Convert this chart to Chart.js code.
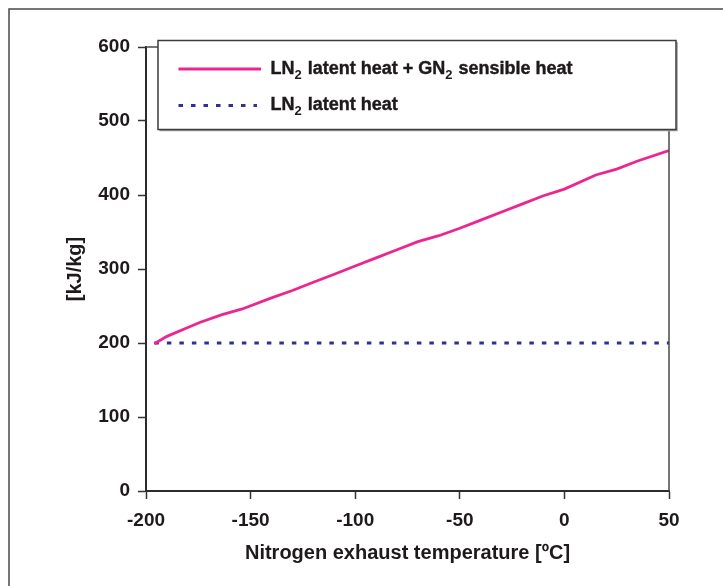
<!DOCTYPE html>
<html><head><meta charset="utf-8">
<script src="https://cdn.jsdelivr.net/npm/chart.js@4"></script>
<style>html,body{margin:0;padding:0;background:#fff;} canvas{display:block}</style>
</head><body>
<canvas id="c" width="723" height="586"></canvas>
<script>
// ---- data ----
const temperature = [-196, -190, -180, -174, -164, -154, -140, -130, -120, -110, -100, -90, -80, -70, -60, -50, -40, -30, -20, -10, 0, 15, 25, 35, 50];
const totalHeat   = [ 199,  209,  221,  228,  238,  246,  261,  271,  282,  293,  304, 315, 326, 337, 345, 355, 366, 377, 388, 399, 408, 427, 435, 446, 460];
const latentTemperature = [-196, 50];
const latentHeat        = [200, 200];
const xTicks = [-200, -150, -100, -50, 0, 50];
const yTicks = [0, 100, 200, 300, 400, 500, 600];
const seriesNames = ['LN₂ latent heat + GN₂ sensible heat', 'LN₂ latent heat'];
const xTitle = 'Nitrogen exhaust temperature [ºC]';
const yTitle = '[kJ/kg]';

const PINK = '#ec268f';
const BLUE = '#2e3192';
const INK = '#1e1a1b';
const FAM = '"Liberation Sans", Arial, Helvetica, sans-serif';

function drawRich(ctx, text, x, y, size, subSize) {
  // draws text with '₂' rendered as a subscript 2
  const parts = text.split('₂');
  let cx = x;
  parts.forEach((p, i) => {
    ctx.font = 'bold ' + size + 'px ' + FAM;
    ctx.fillText(p, cx, y);
    ctx.strokeText(p, cx, y);
    cx += ctx.measureText(p).width;
    if (i < parts.length - 1) {
      ctx.font = 'bold ' + subSize + 'px ' + FAM;
      ctx.fillText('2', cx, y + 5);
      cx += ctx.measureText('2').width + 1;
    }
  });
}

const framePlugin = {
  id: 'frame',
  beforeDraw(chart) {
    const ctx = chart.ctx;
    ctx.save();
    ctx.strokeStyle = '#4a4a4a';
    ctx.lineWidth = 1.5;
    ctx.beginPath();
    ctx.moveTo(9, 586); ctx.lineTo(9, 9); ctx.lineTo(723, 9);
    ctx.stroke();
    ctx.restore();
  },
  afterDatasetsDraw(chart) {
    const {ctx, chartArea: a} = chart;
    ctx.save();
    ctx.strokeStyle = '#4a4a4a';
    ctx.lineWidth = 1.5;
    ctx.beginPath();
    ctx.moveTo(a.left, a.top); ctx.lineTo(a.right, a.top); ctx.lineTo(a.right, a.bottom);
    ctx.stroke();
    ctx.restore();
  },
  afterDraw(chart) {
    const {ctx, chartArea: a} = chart;
    const L = a.left + 12, T = a.top - 6.5, R = a.right + 7, B = a.top + 82.5;
    ctx.save();
    ctx.fillStyle = '#fff';
    ctx.fillRect(L, T, R - L, B - T);
    ctx.strokeStyle = '#9a9a9a';
    ctx.lineWidth = 1.5;
    ctx.beginPath(); ctx.moveTo(L + 1.5, B + 1); ctx.lineTo(R + 1, B + 1); ctx.lineTo(R + 1, T + 1.5); ctx.stroke();
    ctx.strokeStyle = '#3c3c3c';
    ctx.lineWidth = 1.5;
    ctx.strokeRect(L, T, R - L, B - T);
    const ds = chart.data.datasets;
    const rows = [T + 28.5, T + 65];
    ds.forEach((d, i) => {
      const y = rows[i];
      ctx.strokeStyle = d.borderColor;
      ctx.lineWidth = d.borderWidth;
      ctx.setLineDash(d.borderDash || []);
      ctx.beginPath();
      ctx.moveTo(L + 20.5, y); ctx.lineTo(L + (i === 0 ? 103 : 99), y);
      ctx.stroke();
      ctx.setLineDash([]);
      ctx.fillStyle = INK;
      ctx.strokeStyle = INK;
      ctx.lineWidth = 0.4;
      ctx.textBaseline = 'alphabetic';
      ctx.textAlign = 'left';
      drawRich(ctx, d.label, L + 112.5, y + 4.8, 18, 13);
    });
    ctx.restore();
  }
};

new Chart(document.getElementById('c'), {
  type: 'line',
  data: {
    datasets: [
      {
        label: seriesNames[0],
        data: temperature.map((t, i) => ({x: t, y: totalHeat[i]})),
        borderColor: PINK, backgroundColor: PINK, borderWidth: 2.8,
        pointRadius: 0, tension: 0, fill: false
      },
      {
        label: seriesNames[1],
        data: latentTemperature.map((t, i) => ({x: t, y: latentHeat[i]})),
        borderColor: BLUE, backgroundColor: BLUE, borderWidth: 2.8,
        borderDash: [4.5, 8], pointRadius: 0, tension: 0, fill: false
      }
    ]
  },
  options: {
    responsive: false,
    animation: false,
    devicePixelRatio: 1,
    layout: {padding: {top: 47, right: 54, bottom: 0, left: 0}},
    plugins: {legend: {display: false}, tooltip: {enabled: false}},
    scales: {
      x: {
        type: 'linear', min: -200, max: 50,
        afterBuildTicks: s => { s.ticks = xTicks.map(v => ({value: v})); },
        afterFit: s => { s.height = 95; },
        grid: {drawOnChartArea: false, drawTicks: true, tickLength: 8, tickWidth: 1.5, tickColor: '#333'},
        border: {color: '#2b2b2b', width: 2},
        ticks: {color: INK, padding: 10, font: {family: FAM, size: 19, weight: 'bold'}, maxRotation: 0},
        title: {display: true, text: xTitle, color: INK, padding: {top: 0, bottom: 21},
                font: {family: FAM, size: 20, weight: 'bold'}}
      },
      y: {
        type: 'linear', min: 0, max: 600,
        afterBuildTicks: s => { s.ticks = yTicks.map(v => ({value: v})); },
        afterFit: s => { s.width = 146; },
        grid: {drawOnChartArea: false, drawTicks: true, tickLength: 8, tickWidth: 1.5, tickColor: '#333'},
        border: {color: '#2b2b2b', width: 2},
        ticks: {color: INK, padding: 8, font: {family: FAM, size: 19, weight: 'bold'}},
        title: {display: true, text: yTitle, color: INK, padding: {top: 63, bottom: 0},
                font: {family: FAM, size: 20, weight: 'bold'}}
      }
    }
  },
  plugins: [framePlugin]
});
</script>
</body></html>
